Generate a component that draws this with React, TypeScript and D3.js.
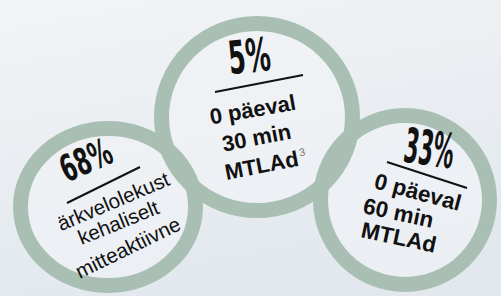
import * as d3 from "d3";

// figures and captions as printed in the graphic
const stats = ["68%", "5%", "33%"];
const captions = [
  ["ärkvelolekust", "kehaliselt", "mitteaktiivne"],
  ["0 päeval", "30 min", "MTLAd"],
  ["0 päeval", "60 min", "MTLAd"],
];
const footnotes = ["", "3", ""];

// where each badge sits (layout only)
const layout = [
  {
    cx: 108, cy: 207, rx: 95, ry: 86,
    stat: { x: 91, y: 172, a: -24, size: 37, len: 53 },
    rule: [67, 203, 140, 167],
    lines: [
      { x: 116, y: 208, a: -23 },
      { x: 121, y: 229, a: -22 },
      { x: 131, y: 254, a: -26 },
    ],
    anchor: "middle", weight: 400, size: 20.5,
  },
  {
    cx: 257, cy: 117, rx: 103, ry: 101,
    stat: { x: 251, y: 72, a: -6, size: 46, len: 42 },
    rule: [215, 92, 303, 75],
    lines: [
      { x: 254, y: 117, a: -10 },
      { x: 258, y: 145, a: -11 },
      { x: 267, y: 172, a: -11 },
    ],
    anchor: "middle", weight: 700, size: 22,
  },
  {
    cx: 405, cy: 200, rx: 92, ry: 92,
    stat: { x: 427, y: 165, a: 8, size: 48, len: 50 },
    rule: [387, 162, 467, 188],
    lines: [
      { x: 373, y: 188, a: 15 },
      { x: 362, y: 213, a: 12 },
      { x: 360, y: 237, a: 12 },
    ],
    anchor: "start", weight: 700, size: 22.5,
  },
];

const W = 501;
const H = 296;
const RING = 15;
const ringColor = d3.color("#a9bfb4")!.formatHex();

export default function App() {
  return (
    <svg width={W} height={H} style={{ position: "absolute", left: 0, top: 0 }}>
      <defs>
        <linearGradient id="bg" x1="0" y1="0" x2="0.3" y2="1">
          <stop offset="0%" stopColor="#f2f4f6" />
          <stop offset="100%" stopColor="#e2e8ee" />
        </linearGradient>
      </defs>
      <rect width={W} height={H} fill="url(#bg)" />
      {layout.map((l, i) => (
        <ellipse
          key={`f${i}`}
          cx={l.cx}
          cy={l.cy}
          rx={l.rx - RING / 2}
          ry={l.ry - RING / 2}
          fill="#f1f4f7"
          fillOpacity={0.6}
        />
      ))}
      {layout.map((l, i) => (
        <ellipse
          key={`r${i}`}
          cx={l.cx}
          cy={l.cy}
          rx={l.rx - RING / 2}
          ry={l.ry - RING / 2}
          fill="none"
          stroke={ringColor}
          strokeWidth={RING}
        />
      ))}
      {layout.map((l, i) => (
        <g key={`t${i}`} fill="#111">
          <text
            transform={`translate(${l.stat.x},${l.stat.y}) rotate(${l.stat.a})`}
            textAnchor="middle"
            fontFamily="'DejaVu Sans Condensed', 'DejaVu Sans', sans-serif"
            fontWeight={700}
            fontSize={l.stat.size}
            textLength={l.stat.len}
            lengthAdjust="spacingAndGlyphs"
          >
            {stats[i]}
          </text>
          <line
            x1={l.rule[0]}
            y1={l.rule[1]}
            x2={l.rule[2]}
            y2={l.rule[3]}
            stroke="#111"
            strokeWidth={2}
          />
          {captions[i].map((line, j) => {
            const p = l.lines[j];
            const last = j === captions[i].length - 1 && footnotes[i];
            return (
              <text
                key={j}
                transform={`translate(${p.x},${p.y}) rotate(${p.a})`}
                textAnchor={l.anchor}
                fontFamily="'Liberation Sans', Arial, sans-serif"
                fontWeight={l.weight}
                fontSize={l.size}
              >
                {line}
                {last ? (
                  <tspan dx={2} dy={-9} fontSize={11} fontWeight={400} fill="#777">
                    {footnotes[i]}
                  </tspan>
                ) : null}
              </text>
            );
          })}
        </g>
      ))}
    </svg>
  );
}
